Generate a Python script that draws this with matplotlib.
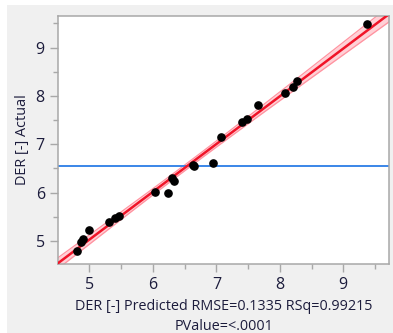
import matplotlib
matplotlib.use("Agg")
import matplotlib.pyplot as plt
import numpy as np
from matplotlib.patches import Rectangle

# values (JMP actual-by-predicted plot)
predicted = [4.81, 4.86, 4.90, 5.00, 5.31, 5.41, 5.46, 6.03, 6.24, 6.30, 6.33,
             6.63, 6.65, 6.94, 7.08, 7.40, 7.48, 7.66, 8.08, 8.20, 8.27, 9.37]
actual = [4.78, 4.98, 5.03, 5.22, 5.39, 5.47, 5.52, 6.02, 5.98, 6.30, 6.24,
          6.57, 6.54, 6.62, 7.14, 7.45, 7.52, 7.81, 8.06, 8.18, 8.30, 9.48]
mean_actual = 6.54
rmse = 0.1335
t_crit = 2.086  # t(0.975, 20 df)
x_ticks = [5, 6, 7, 8, 9]
y_ticks = [5, 6, 7, 8, 9]
x_label = "DER [-] Predicted RMSE=0.1335 RSq=0.99215\nPValue=<.0001"
y_label = "DER [-] Actual"

plt.rcParams['font.family'] = ['Open Sans', 'DejaVu Sans']
tick_col = '#1c1c3c'
frame_col = '#a8a8a8'

fig = plt.figure(figsize=(3.93, 3.33), dpi=100)
fig.patch.set_facecolor('white')
fig.patches.append(Rectangle((7 / 393, 0), 1, 1 - 5 / 333, transform=fig.transFigure,
                             facecolor='#f0f0f0', edgecolor='none', zorder=-10))
ax = fig.add_axes([58 / 393, 1 - 264 / 333, (389 - 58) / 393, (264 - 15.7) / 333])
ax.set_facecolor('white')

xlo, xhi = 4.504, 9.72
ylo, yhi = 4.52, 9.66

# fit line + confidence curves
px = np.array(predicted)
py = np.array(actual)
slope, icpt = np.polyfit(px, py, 1)
xs = np.linspace(xlo, xhi, 200)
fit = slope * xs + icpt
sxx = np.sum((px - px.mean()) ** 2)
hw = t_crit * rmse * np.sqrt(1 / len(px) + (xs - px.mean()) ** 2 / sxx)
ax.fill_between(xs, fit - hw, fit + hw, color='#ffd0d6', lw=0, zorder=1)
ax.plot(xs, fit - hw, color='#ff93a0', lw=0.9, zorder=2)
ax.plot(xs, fit + hw, color='#ff93a0', lw=0.9, zorder=2)
ax.plot(xs, fit, color='#f01428', lw=1.8, zorder=3)

ax.axhline(mean_actual, color='#3a86e8', lw=1.4, zorder=2)
ax.plot(predicted, actual, 'o', color='black', ms=5.2, zorder=4)

ax.set_xlim(xlo, xhi)
ax.set_ylim(ylo, yhi)
ax.set_xticks(x_ticks)
ax.set_yticks(y_ticks)
ax.set_xticks(list(np.array(x_ticks) + 0.5), minor=True)
ax.set_yticks(list(np.array(y_ticks) + 0.5), minor=True)
ax.tick_params(which='major', length=5.5, width=1, color=frame_col,
               labelsize=11.5, labelcolor=tick_col, pad=4)
ax.tick_params(which='minor', length=3.5, width=1, color=frame_col)
for s in ax.spines.values():
    s.set_color(frame_col)
    s.set_linewidth(1.1)

ax.set_xlabel(x_label, fontsize=10.4, color=tick_col, labelpad=4, linespacing=1.45)
ax.set_ylabel(y_label, fontsize=10.4, color=tick_col, labelpad=4)

fig.savefig('out.png', dpi=100)
